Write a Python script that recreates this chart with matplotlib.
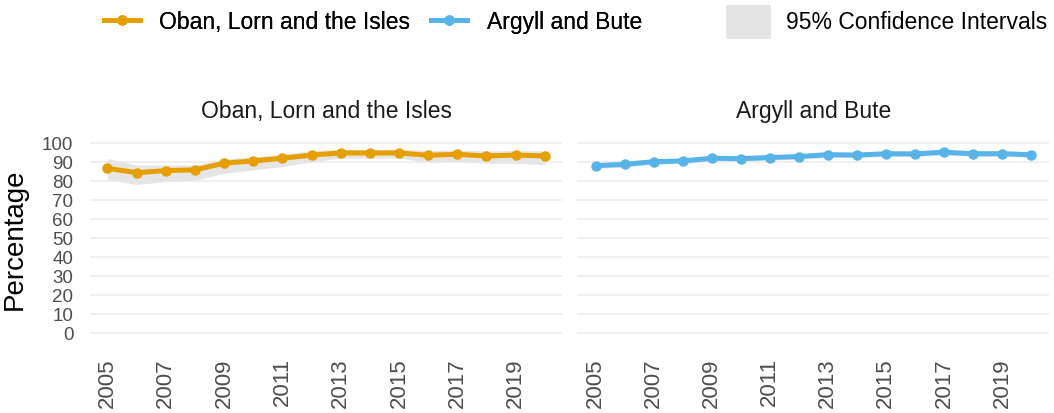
import matplotlib
matplotlib.use("Agg")
import matplotlib.pyplot as plt
from matplotlib.lines import Line2D
from matplotlib.patches import Patch

plt.rcParams['font.family'] = ['Liberation Sans', 'DejaVu Sans']

years = list(range(2005, 2021))

oban_vals = [86.8, 84.5, 85.6, 86.0, 89.5, 90.7, 92.1, 93.8, 94.9, 94.9, 94.9, 93.7, 94.2, 93.3, 93.8, 93.3]
oban_low = [81.0, 78.3, 79.8, 80.5, 84.2, 86.0, 87.8, 90.2, 92.2, 92.2, 92.2, 90.0, 90.5, 89.5, 89.5, 88.7]
oban_high = [92.0, 88.5, 88.5, 88.5, 91.8, 92.8, 94.3, 96.2, 96.8, 96.8, 96.8, 96.2, 96.5, 96.0, 96.2, 96.0]

argyll_vals = [88.2, 88.9, 90.3, 90.7, 92.1, 91.9, 92.5, 93.0, 94.0, 93.8, 94.5, 94.4, 95.3, 94.5, 94.5, 94.0]
argyll_low = [86.8, 87.5, 88.9, 89.3, 90.7, 90.5, 91.1, 91.6, 92.6, 92.4, 93.1, 93.0, 93.9, 93.1, 93.1, 92.6]
argyll_high = [89.6, 90.3, 91.7, 92.1, 93.5, 93.3, 93.9, 94.4, 95.4, 95.2, 95.9, 95.8, 96.7, 95.9, 95.9, 95.4]

panel_titles = ["Oban, Lorn and the Isles", "Argyll and Bute"]
colors = ["#E69F00", "#56B4E9"]
ci_color = "#E5E5E5"
y_ticks = list(range(0, 101, 10))
x_ticks = list(range(2005, 2021, 2))

W, H = 1054, 413
fig = plt.figure(figsize=(W / 100, H / 100), dpi=100)

ax_top, ax_bot = 137.6, 338.7
panels = [(90, 562.3, 0.6), (577.3, 1049.3, 0.63)]
series = [(oban_vals, oban_low, oban_high), (argyll_vals, argyll_low, argyll_high)]

for i, ((x0, x1, pad), (vals, lo, hi)) in enumerate(zip(panels, series)):
    ax = fig.add_axes([x0 / W, (H - ax_bot) / H, (x1 - x0) / W, (ax_bot - ax_top) / H])
    ax.fill_between(years, lo, hi, color=ci_color, linewidth=0, zorder=1)
    ax.plot(years, vals, color=colors[i], linewidth=3.6, marker='o', markersize=6.5, zorder=3)
    ax.set_xlim(2005 - pad, 2020 + pad)
    ax.set_ylim(-3, 103)
    ax.set_yticks(y_ticks)
    ax.set_xticks(x_ticks)
    ax.set_xticklabels([str(x) for x in x_ticks], rotation=90, fontsize=16, color="#4D4D4D")
    if i == 0:
        ax.set_yticklabels([str(y) for y in y_ticks], fontsize=13.5, color="#4D4D4D")
    else:
        ax.set_yticklabels([])
    ax.tick_params(axis='both', length=0)
    ax.tick_params(axis='y', pad=12)
    ax.tick_params(axis='x', pad=14)
    ax.grid(axis='y', color="#EBEBEB", linewidth=1.1)
    ax.grid(axis='x', visible=False)
    ax.set_axisbelow(True)
    for s in ax.spines.values():
        s.set_visible(False)
    ax.set_title(panel_titles[i], fontsize=16.5, color="#1A1A1A", pad=14)

fig.text(15 / W, (H - 239) / H, "Percentage", rotation=90, ha='center', va='center',
         fontsize=20, color="black")

handles = [Line2D([], [], color=colors[0], linewidth=3.6, marker='o', markersize=6.5),
           Line2D([], [], color=colors[1], linewidth=3.6, marker='o', markersize=6.5)]
leg1 = fig.legend(handles, panel_titles, loc='center left',
                  bbox_to_anchor=(104 / W, (H - 22) / H), ncol=2, frameon=False,
                  fontsize=16.5, handlelength=1.55, handletextpad=0.87, columnspacing=0.9,
                  borderpad=0, borderaxespad=0)
leg2 = fig.legend([Patch(facecolor=ci_color, edgecolor='none')], ["95% Confidence Intervals"],
                  loc='center left', bbox_to_anchor=(726 / W, (H - 22) / H), frameon=False,
                  fontsize=16.5, handlelength=1.96, handleheight=1.9, handletextpad=0.65,
                  borderpad=0, borderaxespad=0)
fig.add_artist(leg1)

fig.savefig("out.png", dpi=100)
